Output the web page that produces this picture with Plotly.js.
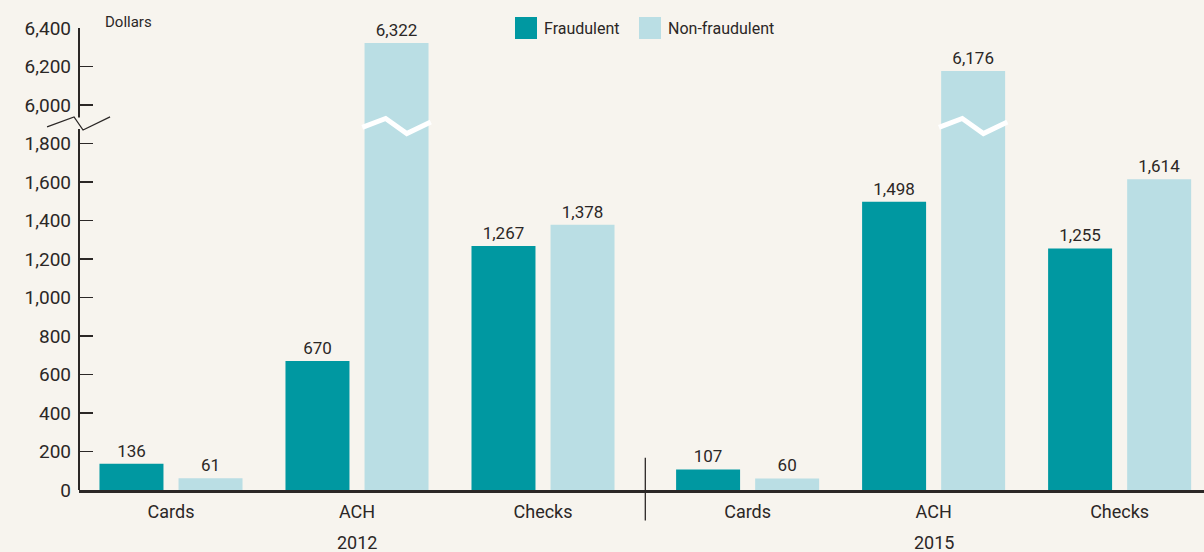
<!DOCTYPE html>
<html>
<head>
<meta charset="utf-8">
<script src="https://cdn.plot.ly/plotly-3.0.1.min.js"></script>
<style>
html,body{margin:0;padding:0;background:#F7F4EE;}
#chart{width:1204px;height:552px;}
</style>
</head>
<body>
<div id="chart"></div>
<script>
// ---- data ----
const years = ["2012", "2015"];
const categories = ["Cards", "ACH", "Checks"];
const fraudulent = [136, 670, 1267, 107, 1498, 1255];
const nonFraudulent = [61, 6322, 1378, 60, 6176, 1614];
const seriesNames = ["Fraudulent", "Non-fraudulent"];
const yTickValues = [0, 200, 400, 600, 800, 1000, 1200, 1400, 1600, 1800, 6000, 6200, 6400];

// ---- styling / layout helpers ----
const FONT = "Roboto, 'Liberation Sans', sans-serif";
const TXT = "#2b2726";
const C_FRAUD = "#0098A1";
const C_NON = "#BADEE4";
const BREAK_LOW = 2000, BREAK_HIGH = 6000, BREAK_SHIFT = BREAK_HIGH - BREAK_LOW;
const mapY = v => v >= BREAK_HIGH ? v - BREAK_SHIFT : v;
const fmt = v => v.toLocaleString("en-US");

const YEAR_GAP = 0.1;
const xPos = [];
years.forEach((y, yi) => categories.forEach((c, ci) => xPos.push(ci + yi * (categories.length + YEAR_GAP))));
const xLabels = [];
years.forEach(() => categories.forEach(c => xLabels.push(c)));

const BW = 0.344, BGAP = 0.081;
const traces = [
  {type: "bar", name: seriesNames[0], x: xPos, y: fraudulent.map(mapY),
   width: BW, offset: -(BW + BGAP / 2),
   text: fraudulent.map(fmt), texttemplate: "%{text}", textposition: "outside",
   textfont: {family: FONT, size: 17, color: TXT}, cliponaxis: false,
   marker: {color: C_FRAUD}, hoverinfo: "skip"},
  {type: "bar", name: seriesNames[1], x: xPos, y: nonFraudulent.map(mapY),
   width: BW, offset: BGAP / 2,
   text: nonFraudulent.map(fmt), texttemplate: "%{text}", textposition: "outside",
   textfont: {family: FONT, size: 17, color: TXT}, cliponaxis: false,
   marker: {color: C_NON}, hoverinfo: "skip"}
];

const shapes = [];
const annotations = [];
// y axis line with break
shapes.push({type: "line", xref: "paper", yref: "y", x0: 0, x1: 0, y0: 0, y1: 1875, line: {color: TXT, width: 2}, layer: "above"});
shapes.push({type: "line", xref: "paper", yref: "y", x0: 0, x1: 0, y0: 1935, y1: 2400, line: {color: TXT, width: 2}, layer: "above"});
// axis break zigzag
shapes.push({type: "path", xref: "paper", yref: "y",
  path: "M -0.0284 1886 L -0.0044 1938 L 0.0036 1870 L 0.0276 1938",
  line: {color: TXT, width: 1.3}, layer: "above"});
// white break marks on bars beyond the break
nonFraudulent.forEach((v, i) => {
  if (v >= BREAK_HIGH) {
    const l = xPos[i] + BGAP / 2 - 0.012;
    const r = xPos[i] + BGAP / 2 + BW + 0.012;
    const p1 = xPos[i] + BGAP / 2 + BW * 0.33;
    const p2 = xPos[i] + BGAP / 2 + BW * 0.66;
    shapes.push({type: "path", xref: "x", yref: "y",
      path: `M ${l} 1884 L ${p1} 1930 L ${p2} 1852 L ${r} 1912`,
      line: {color: "#ffffff", width: 5}, layer: "above"});
  }
});
// divider between years
const divX = (xPos[categories.length - 1] + xPos[categories.length]) / 2;
shapes.push({type: "line", xref: "x", yref: "paper", x0: divX, x1: divX, y0: -0.066, y1: 0.07, line: {color: TXT, width: 1.3}});
// year labels
years.forEach((y, yi) => {
  const mid = xPos[yi * categories.length + 1];
  annotations.push({text: y, x: mid, xref: "x", y: (490 - 542) / 462, yref: "paper", yanchor: "middle", xanchor: "center",
    showarrow: false, font: {family: FONT, size: 18, color: TXT}});
});
// units label
annotations.push({text: "Dollars", xref: "paper", x: 0.021, yref: "paper", y: (490 - 22) / 462, xanchor: "left", yanchor: "middle",
  showarrow: false, font: {family: FONT, size: 15, color: TXT}});
// custom legend
const legendItems = [{name: seriesNames[0], color: C_FRAUD, px: 515}, {name: seriesNames[1], color: C_NON, px: 639}];
legendItems.forEach(it => {
  const x0 = (it.px - 79) / 1125, x1 = (it.px + 22 - 79) / 1125;
  shapes.push({type: "rect", xref: "paper", yref: "paper", x0: x0, x1: x1,
    y0: (490 - 39) / 462, y1: (490 - 17) / 462, fillcolor: it.color, line: {width: 0}});
  annotations.push({text: it.name, xref: "paper", x: (it.px + 27 - 79) / 1125, yref: "paper", y: (490 - 28) / 462,
    xanchor: "left", yanchor: "middle", showarrow: false, font: {family: FONT, size: 16, color: TXT}});
});

const layout = {
  width: 1204, height: 552,
  paper_bgcolor: "#F7F4EE", plot_bgcolor: "#F7F4EE",
  margin: {l: 79, r: 0, t: 28, b: 62},
  showlegend: false,
  barmode: "overlay",
  font: {family: FONT, color: TXT},
  xaxis: {
    range: [-0.4946, 5.5536], tickvals: xPos, ticktext: xLabels,
    showgrid: false, zeroline: false, showline: true, linecolor: TXT, linewidth: 2.5,
    ticks: "", tickfont: {family: FONT, size: 18, color: TXT}, ticklabelstandoff: 4, fixedrange: true
  },
  yaxis: {
    range: [0, 2400], tickvals: yTickValues.map(mapY), ticktext: yTickValues.map(fmt),
    showgrid: false, zeroline: false, showline: false,
    ticks: "inside", ticklen: 14, tickwidth: 1.5, tickcolor: TXT,
    tickfont: {family: FONT, size: 19, color: TXT}, ticklabelstandoff: 7, fixedrange: true
  },
  shapes: shapes,
  annotations: annotations
};

Plotly.newPlot("chart", traces, layout, {displayModeBar: false, staticPlot: true});
</script>
</body>
</html>
